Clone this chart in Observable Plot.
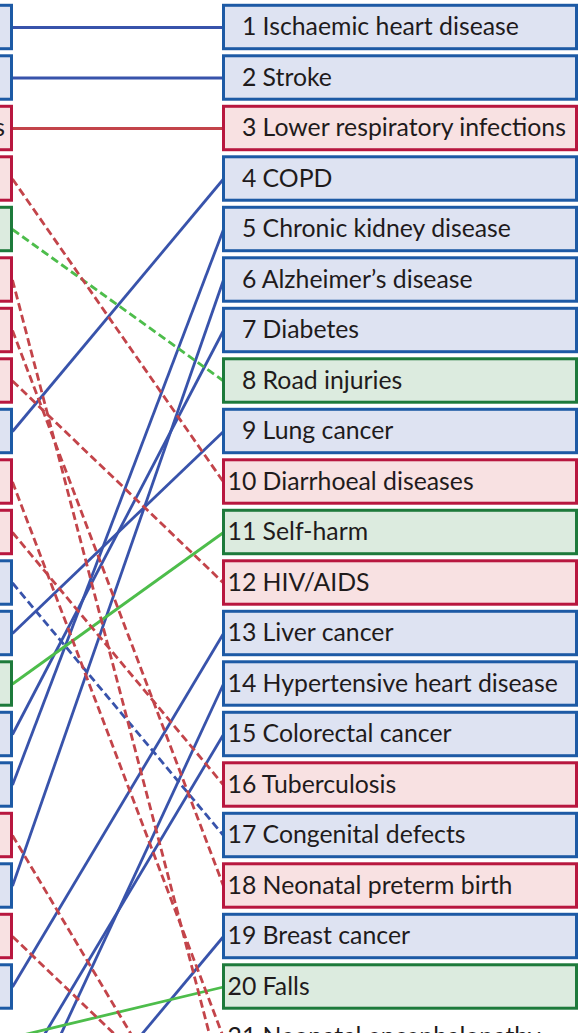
<!DOCTYPE html>
<html>
<head>
<meta charset="utf-8">
<script src="https://cdn.jsdelivr.net/npm/d3@7"></script>
<script src="https://cdn.jsdelivr.net/npm/@observablehq/plot@0.6"></script>
<style>
html, body { margin: 0; padding: 0; background: #ffffff; overflow: hidden; }
#chart svg { display: block; overflow: hidden; }
</style>
</head>
<body>
<div id="chart"></div>
<script>
// Causes, listed in order of the later (right-hand) ranking
const causes = [
  "Ischaemic heart disease", "Stroke", "Lower respiratory infections", "COPD",
  "Chronic kidney disease", "Alzheimer\u2019s disease", "Diabetes", "Road injuries",
  "Lung cancer", "Diarrhoeal diseases", "Self-harm", "HIV/AIDS",
  "Liver cancer", "Hypertensive heart disease", "Colorectal cancer", "Tuberculosis",
  "Congenital defects", "Neonatal preterm birth", "Breast cancer", "Falls",
  "Neonatal encephalopathy", "Measles", "Meningitis", "Malaria"
];
// cause group: ncd = non-communicable, cmnn = communicable/maternal/neonatal/nutritional, inj = injuries
const groups = [
  "ncd", "ncd", "cmnn", "ncd",
  "ncd", "ncd", "ncd", "inj",
  "ncd", "cmnn", "inj", "cmnn",
  "ncd", "ncd", "ncd", "cmnn",
  "ncd", "cmnn", "ncd", "inj",
  "cmnn", "cmnn", "cmnn", "cmnn"
];
// rank in the earlier year (left column)
const rankStart = [
  1, 2, 3, 9,
  16, 18, 15, 5,
  13, 4, 14, 8,
  20, 23, 22, 11,
  12, 7, 24, 21,
  10, 6, 19, 17
];
// rank in the later year (right column)
const rankEnd = [
  1, 2, 3, 4,
  5, 6, 7, 8,
  9, 10, 11, 12,
  13, 14, 15, 16,
  17, 18, 19, 20,
  21, 22, 23, 24
];
const topN = 20;

const palette = {
  ncd:  { line: "#3853ab", box: "#1d5aa5", fill: "#dee3f2" },
  cmnn: { line: "#c3444a", box: "#b8173f", fill: "#f8e1e2" },
  inj:  { line: "#4dbd4b", box: "#1d7a3b", fill: "#dcebdf" }
};

const rows = causes.map((cause, i) => ({
  cause, group: groups[i], start: rankStart[i], end: rankEnd[i]
}));

// layout helpers (pixel -> x units; column 0 = earlier year, column 1 = later year)
const X0 = 12, X1 = 223;
const px = p => (p - X0) / (X1 - X0);
const boxHalf = 0.43;
const label = (r, name) => (r < 10 ? "\u2007" : "") + r + " " + name;

const font = "Lato, 'Open Sans', sans-serif";
const fs = 24.8;

const chart = Plot.plot({
  width: 585,
  height: 1033,
  margin: 0,
  x: { domain: [0, 1], range: [X0, X1], axis: null },
  y: { domain: [1, 20], range: [27, 986.5], axis: null },
  color: { type: "identity" },
  style: { fontFamily: font, fontVariantNumeric: "tabular-nums", background: "#ffffff", overflow: "hidden" },
  marks: [
    // connecting lines: solid when rising or unchanged, dashed when falling
    Plot.link(rows.filter(d => d.end <= d.start), {
      x1: () => 0, x2: () => 1, y1: "start", y2: "end",
      stroke: d => palette[d.group].line, strokeWidth: 2.8
    }),
    Plot.link(rows.filter(d => d.end > d.start), {
      x1: () => 0, x2: () => 1, y1: "start", y2: "end",
      stroke: d => palette[d.group].line, strokeWidth: 2.8, strokeDasharray: "8,4"
    }),
    // left column boxes (earlier year)
    Plot.rect(rows.filter(d => d.start <= topN), {
      x1: () => px(-344.5), x2: () => px(11.5),
      y1: d => d.start - boxHalf, y2: d => d.start + boxHalf,
      fill: d => palette[d.group].fill, stroke: d => palette[d.group].box, strokeWidth: 3
    }),
    // right column boxes (later year)
    Plot.rect(rows.filter(d => d.end <= topN), {
      x1: () => px(223.5), x2: () => px(576.5),
      y1: d => d.end - boxHalf, y2: d => d.end + boxHalf,
      fill: d => palette[d.group].fill, stroke: d => palette[d.group].box, strokeWidth: 3
    }),
    // labels
    Plot.text(rows, {
      x: () => px(-334), y: "start", text: d => label(d.start, d.cause),
      textAnchor: "start", fontSize: fs, fill: "#1f1b1c"
    }),
    Plot.text(rows, {
      x: () => px(227), y: "end", text: d => label(d.end, d.cause),
      textAnchor: "start", fontSize: fs, fill: "#1f1b1c"
    })
  ]
});
document.getElementById("chart").appendChild(chart);
</script>
</body>
</html>
